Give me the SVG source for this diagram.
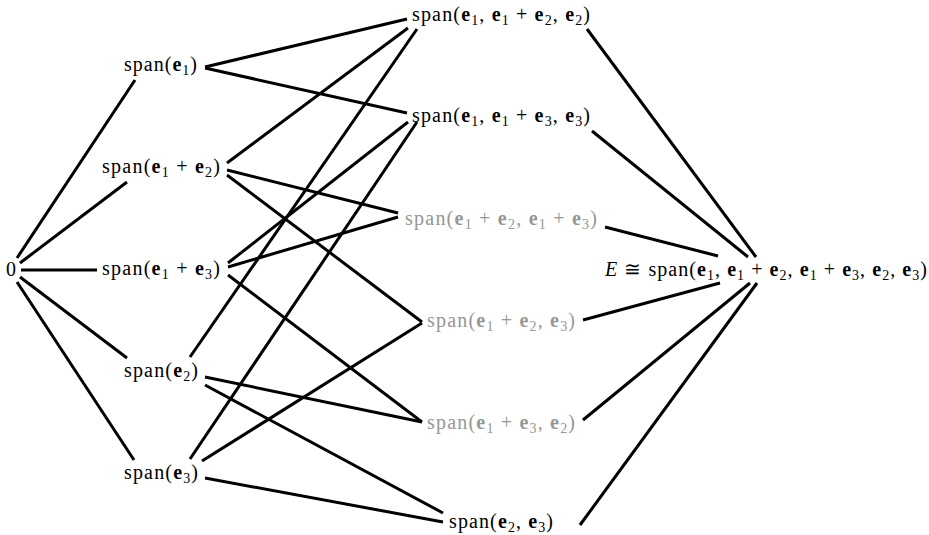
<svg xmlns="http://www.w3.org/2000/svg" width="929" height="535" viewBox="0 0 929 535">
<style>
text{font-family:'Liberation Serif','DejaVu Serif',serif;font-size:20px;fill:#000}
.gray{fill:#969696}
.b{font-weight:bold}
.s{font-size:14px}
.e{stroke:#000;stroke-width:3;fill:none;stroke-linecap:butt}
</style>
<rect width="929" height="535" fill="#fff"/>
<g id="connectors">
<line class="e" x1="17" y1="258" x2="135" y2="80"/>
<line class="e" x1="20" y1="263" x2="127" y2="182"/>
<line class="e" x1="21" y1="270" x2="97" y2="270"/>
<line class="e" x1="20" y1="277" x2="127" y2="358"/>
<line class="e" x1="17" y1="282" x2="134" y2="460"/>
<line class="e" x1="205" y1="67" x2="407" y2="19"/>
<line class="e" x1="205" y1="68" x2="407" y2="113"/>
<line class="e" x1="227" y1="163" x2="408" y2="28"/>
<line class="e" x1="227" y1="170" x2="398" y2="213"/>
<line class="e" x1="227" y1="175" x2="422" y2="322"/>
<line class="e" x1="228" y1="263" x2="408" y2="122"/>
<line class="e" x1="228" y1="267" x2="398" y2="217"/>
<line class="e" x1="228" y1="275" x2="422" y2="422"/>
<line class="e" x1="190" y1="357" x2="417" y2="29"/>
<line class="e" x1="205" y1="377" x2="422" y2="422"/>
<line class="e" x1="205" y1="385" x2="443" y2="513"/>
<line class="e" x1="190" y1="459" x2="417" y2="122"/>
<line class="e" x1="202" y1="461" x2="422" y2="323"/>
<line class="e" x1="205" y1="478" x2="443" y2="522"/>
<line class="e" x1="587" y1="29" x2="756" y2="257"/>
<line class="e" x1="592" y1="131" x2="748" y2="257"/>
<line class="e" x1="605" y1="227" x2="718" y2="256"/>
<line class="e" x1="583" y1="320" x2="720" y2="283"/>
<line class="e" x1="583" y1="420" x2="750" y2="283"/>
<line class="e" x1="580" y1="525" x2="757" y2="283"/>
</g>
<g id="n0"><text x="6" y="276">0</text></g>
<g id="n_e1"><text x="124" y="71" textLength="73">span(<tspan class="b">e</tspan><tspan class="s" dy="4">1</tspan><tspan dy="-4">)</tspan></text></g>
<g id="n_e1e2"><text x="102" y="173" textLength="118">span(<tspan class="b">e</tspan><tspan class="s" dy="4">1</tspan><tspan dy="-4"> + </tspan><tspan class="b">e</tspan><tspan class="s" dy="4">2</tspan><tspan dy="-4">)</tspan></text></g>
<g id="n_e1e3"><text x="102" y="275" textLength="118">span(<tspan class="b">e</tspan><tspan class="s" dy="4">1</tspan><tspan dy="-4"> + </tspan><tspan class="b">e</tspan><tspan class="s" dy="4">3</tspan><tspan dy="-4">)</tspan></text></g>
<g id="n_e2"><text x="124" y="377" textLength="74">span(<tspan class="b">e</tspan><tspan class="s" dy="4">2</tspan><tspan dy="-4">)</tspan></text></g>
<g id="n_e3"><text x="124" y="479" textLength="74">span(<tspan class="b">e</tspan><tspan class="s" dy="4">3</tspan><tspan dy="-4">)</tspan></text></g>
<g id="m1"><text x="412" y="21" textLength="178">span(<tspan class="b">e</tspan><tspan class="s" dy="4">1</tspan><tspan dy="-4">, </tspan><tspan class="b">e</tspan><tspan class="s" dy="4">1</tspan><tspan dy="-4"> + </tspan><tspan class="b">e</tspan><tspan class="s" dy="4">2</tspan><tspan dy="-4">, </tspan><tspan class="b">e</tspan><tspan class="s" dy="4">2</tspan><tspan dy="-4">)</tspan></text></g>
<g id="m2"><text x="412" y="122" textLength="178">span(<tspan class="b">e</tspan><tspan class="s" dy="4">1</tspan><tspan dy="-4">, </tspan><tspan class="b">e</tspan><tspan class="s" dy="4">1</tspan><tspan dy="-4"> + </tspan><tspan class="b">e</tspan><tspan class="s" dy="4">3</tspan><tspan dy="-4">, </tspan><tspan class="b">e</tspan><tspan class="s" dy="4">3</tspan><tspan dy="-4">)</tspan></text></g>
<g id="m3"><text class="gray" x="405" y="225" textLength="192">span(<tspan class="b">e</tspan><tspan class="s" dy="4">1</tspan><tspan dy="-4"> + </tspan><tspan class="b">e</tspan><tspan class="s" dy="4">2</tspan><tspan dy="-4">, </tspan><tspan class="b">e</tspan><tspan class="s" dy="4">1</tspan><tspan dy="-4"> + </tspan><tspan class="b">e</tspan><tspan class="s" dy="4">3</tspan><tspan dy="-4">)</tspan></text></g>
<g id="m4"><text class="gray" x="427" y="327" textLength="148">span(<tspan class="b">e</tspan><tspan class="s" dy="4">1</tspan><tspan dy="-4"> + </tspan><tspan class="b">e</tspan><tspan class="s" dy="4">2</tspan><tspan dy="-4">, </tspan><tspan class="b">e</tspan><tspan class="s" dy="4">3</tspan><tspan dy="-4">)</tspan></text></g>
<g id="m5"><text class="gray" x="427" y="429" textLength="148">span(<tspan class="b">e</tspan><tspan class="s" dy="4">1</tspan><tspan dy="-4"> + </tspan><tspan class="b">e</tspan><tspan class="s" dy="4">3</tspan><tspan dy="-4">, </tspan><tspan class="b">e</tspan><tspan class="s" dy="4">2</tspan><tspan dy="-4">)</tspan></text></g>
<g id="m6"><text x="449" y="528" textLength="104">span(<tspan class="b">e</tspan><tspan class="s" dy="4">2</tspan><tspan dy="-4">, </tspan><tspan class="b">e</tspan><tspan class="s" dy="4">3</tspan><tspan dy="-4">)</tspan></text></g>
<g id="top"><text x="605" y="276" textLength="322"><tspan font-style="italic">E</tspan> ≅ span(<tspan class="b">e</tspan><tspan class="s" dy="4">1</tspan><tspan dy="-4">, </tspan><tspan class="b">e</tspan><tspan class="s" dy="4">1</tspan><tspan dy="-4"> + </tspan><tspan class="b">e</tspan><tspan class="s" dy="4">2</tspan><tspan dy="-4">, </tspan><tspan class="b">e</tspan><tspan class="s" dy="4">1</tspan><tspan dy="-4"> + </tspan><tspan class="b">e</tspan><tspan class="s" dy="4">3</tspan><tspan dy="-4">, </tspan><tspan class="b">e</tspan><tspan class="s" dy="4">2</tspan><tspan dy="-4">, </tspan><tspan class="b">e</tspan><tspan class="s" dy="4">3</tspan><tspan dy="-4">)</tspan></text></g>
</svg>
